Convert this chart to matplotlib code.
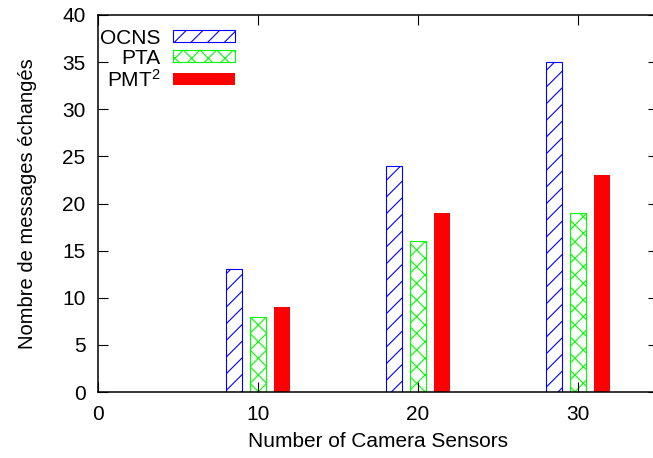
import matplotlib
matplotlib.use('Agg')
import matplotlib.pyplot as plt
import numpy as np

plt.rcParams['font.family'] = ['Liberation Sans', 'DejaVu Sans']
plt.rcParams['mathtext.default'] = 'regular'
plt.rcParams['hatch.linewidth'] = 0.8

# data
sensors = [10, 20, 30]
ocns = [13, 24, 35]
pta = [8, 16, 19]
pmt2 = [9, 19, 23]

x = np.array(sensors)

fig = plt.figure(figsize=(6.53, 4.58), dpi=100)
ax = fig.add_axes([98/653, 66/458, 560/653, 377/458])

ax.bar(x - 1.5, ocns, width=1.0, facecolor='white', edgecolor='#0000ff',
       hatch='//', linewidth=0.8, label='OCNS')
ax.bar(x, pta, width=1.0, facecolor='white', edgecolor='#00ff00',
       hatch='xx', linewidth=0.8, label='PTA')
ax.bar(x + 1.5, pmt2, width=1.0, color='#ff0000', linewidth=0,
       label='PMT$^2$')

ax.set_xlim(0, 35)
ax.set_ylim(0, 40)
ax.set_xticks([0, 10, 20, 30])
ax.set_yticks(range(0, 41, 5))
ax.tick_params(direction='in', length=7, width=0.8, labelsize=15, pad=9,
               top=True, right=True)
for s in ax.spines.values():
    s.set_linewidth(1.1)

ax.set_xlabel('Number of Camera Sensors', fontsize=15, labelpad=6)
ax.set_ylabel('Nombre de messages échangés', fontsize=14.5, labelpad=18)

ax.legend(loc='upper left', bbox_to_anchor=(-0.021, 1.0), frameon=False,
          markerfirst=False, fontsize=15, handlelength=3.0, handleheight=0.55,
          handletextpad=0.6, labelspacing=0.05, borderaxespad=0.45,
          borderpad=0.2)

fig.savefig('out.png', dpi=100)
